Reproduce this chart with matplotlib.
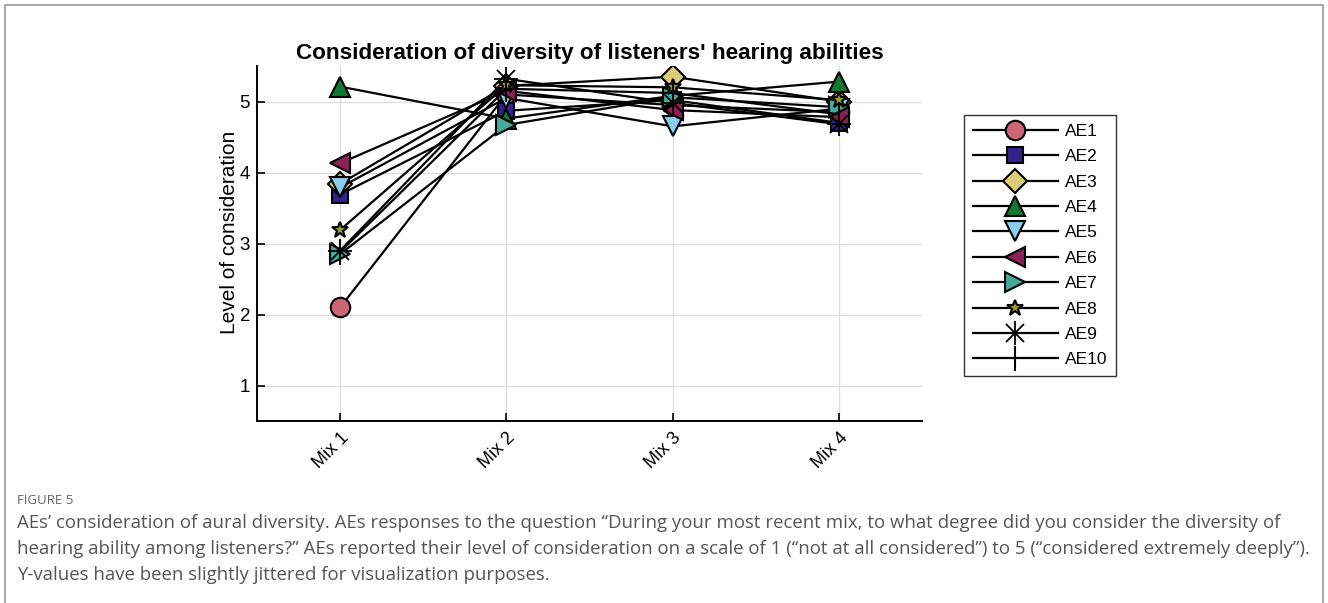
import matplotlib.pyplot as plt
from matplotlib.patches import Rectangle
from matplotlib.lines import Line2D
from matplotlib.legend_handler import HandlerTuple

mixes = ["Mix 1", "Mix 2", "Mix 3", "Mix 4"]
names = ["AE1", "AE2", "AE3", "AE4", "AE5", "AE6", "AE7", "AE8", "AE9", "AE10"]

# jittered level of consideration per engineer, Mix 1..4
ae1 = [2.10, 5.10, 4.95, 4.85]
ae2 = [3.69, 4.87, 5.02, 4.70]
ae3 = [3.84, 5.22, 5.35, 5.00]
ae4 = [5.21, 4.76, 5.08, 5.28]
ae5 = [3.79, 5.05, 4.65, 4.90]
ae6 = [4.13, 5.15, 4.88, 4.78]
ae7 = [2.85, 4.67, 5.06, 4.92]
ae8 = [3.19, 5.23, 5.20, 5.02]
ae9 = [2.90, 5.32, 4.98, 4.68]
ae10 = [2.88, 5.18, 5.12, 4.82]
series = [ae1, ae2, ae3, ae4, ae5, ae6, ae7, ae8, ae9, ae10]

colors = ["#CC6677", "#332288", "#DDCC77", "#117733", "#88CCEE",
          "#882255", "#44AA99", "#999933", "black", "black"]
markers = ["o", "s", "D", "^", "v", "<", ">", "*", "asterisk", "|"]
sizes = [14, 11, 12, 15, 15, 15, 15, 12, 14, 18]

plt.rcParams['font.family'] = ['Liberation Sans', 'DejaVu Sans']

fig = plt.figure(figsize=(13.28, 6.03), dpi=100)
fig.patches.append(Rectangle((5 / 1328, -0.01), 1318 / 1328, 0.9917 + 0.01,
                             transform=fig.transFigure, fill=False,
                             edgecolor="#9a9a9a", lw=1.2))

ax = fig.add_axes([0.1935, 0.3018, 0.5008, 0.5887])
xs = [1, 2, 3, 4]
handles = []
for i, vals in enumerate(series):
    m = markers[i]
    if m == "asterisk":
        ax.plot(xs, vals, color="black", lw=1.6, zorder=2)
        ax.plot(xs, vals, ls="none", marker="x", ms=13, mew=1.3, color="black", zorder=3)
        ax.plot(xs, vals, ls="none", marker="+", ms=17, mew=1.3, color="black", zorder=3)
        h = (Line2D([], [], color="black", lw=1.6, marker="x", ms=13, mew=1.3),
             Line2D([], [], color="black", lw=0, marker="+", ms=17, mew=1.3))
    elif m == "|":
        ax.plot(xs, vals, color="black", lw=1.6, marker="|", ms=sizes[i], mew=1.5, zorder=3)
        h = Line2D([], [], color="black", lw=1.6, marker="|", ms=sizes[i], mew=1.5)
    else:
        ax.plot(xs, vals, color="black", lw=1.6, marker=m, ms=sizes[i],
                mfc=colors[i], mec="black", mew=1.5, zorder=3)
        h = Line2D([], [], color="black", lw=1.6, marker=m, ms=sizes[i],
                   mfc=colors[i], mec="black", mew=1.5)
    handles.append(h)

ax.set_xlim(0.5, 4.5)
ax.set_ylim(0.5, 5.5)
ax.set_xticks(xs)
ax.set_xticklabels(mixes, rotation=45, ha="right", rotation_mode="anchor", fontsize=13)
ax.set_yticks([1, 2, 3, 4, 5])
ax.tick_params(axis="y", labelsize=13.5, direction="in", length=6, width=1.2, pad=5)
ax.tick_params(axis="x", direction="in", length=6, width=1.2, pad=6)
ax.grid(True, color="#dddddd", lw=0.9)
ax.set_axisbelow(True)
for s in ["top", "right"]:
    ax.spines[s].set_visible(False)
for s in ["left", "bottom"]:
    ax.spines[s].set_linewidth(1.4)
ax.set_ylabel("Level of consideration", fontsize=15)
ax.yaxis.set_label_coords(-0.027, 0.53)
ax.set_title("Consideration of diversity of listeners' hearing abilities",
             fontsize=16.2, fontweight="bold", pad=5)

leg = fig.legend(handles, names, loc="upper left",
                 bbox_to_anchor=(964 / 1328, 1 - 115 / 603), borderaxespad=0,
                 handlelength=4.9, fontsize=12.5, frameon=True, fancybox=False,
                 edgecolor="black", labelspacing=0.59, borderpad=0.5,
                 handletextpad=0.4, handler_map={tuple: HandlerTuple(ndivide=1)})
leg.get_frame().set_linewidth(1.0)

fig.text(17 / 1328, 1 - 500 / 603, "FIGURE 5", fontsize=9.5, color="#666666",
         family="Open Sans", va="center")
caption = ("AEs\u2019 consideration of aural diversity. AEs responses to the question \u201cDuring your most recent mix, to what degree did you consider the diversity of\n"
           "hearing ability among listeners?\u201d AEs reported their level of consideration on a scale of 1 (\u201cnot at all considered\u201d) to 5 (\u201cconsidered extremely deeply\u201d).\n"
           "Y-values have been slightly jittered for visualization purposes.")
fig.text(17 / 1328, 1 - 514 / 603, caption, fontsize=13.45, color="#555555",
         family="Open Sans", va="top", linespacing=1.58)

fig.savefig("out.png", dpi=100)
